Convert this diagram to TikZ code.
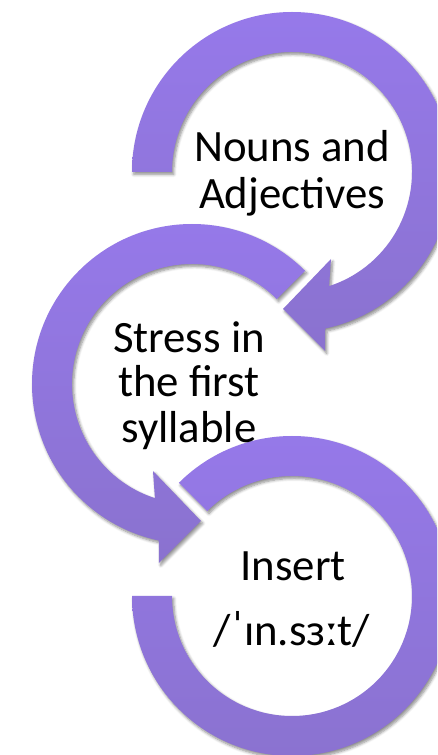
\documentclass[tikz,border=0pt]{standalone}
\usepackage{fontspec}
\setmainfont{Carlito}
\usetikzlibrary{shadows.blur}
\definecolor{ArrowTop}{HTML}{9679EA}
\definecolor{ArrowBot}{HTML}{8A72CF}

\begin{document}
\begin{tikzpicture}[x=0.02cm,y=0.02cm,
    ring/.style={top color=ArrowTop,bottom color=ArrowBot,draw=none,
      blur shadow={shadow xshift=1pt,shadow yshift=-1.4pt,shadow blur radius=1.6pt,
        shadow blur steps=6,shadow opacity=45}},
    lbl/.style={anchor=base,inner sep=0pt,font=\fontsize{25.5}{30}\selectfont}]
\useasboundingbox (0,0) rectangle (437,755);
\clip (0,0) rectangle (437,755);
% top ring, head turns down-left
\shade[ring,shift={(292,583)}] (180:160) arc[start angle=180,end angle=-78,radius=160]
  -- (33,-179) -- (-9,-137) -- (39,-87) -- (-72:120)
  arc[start angle=-72,end angle=180,radius=120] -- cycle;
% middle ring, mirrored
\shade[ring,shift={(192,371)},xscale=-1] (135:160) arc[start angle=135,end angle=-78,radius=160]
  -- (33,-179) -- (-9,-137) -- (39,-87) -- (-72:120)
  arc[start angle=-72,end angle=135,radius=120] -- cycle;
% last ring, no head
\shade[ring,shift={(292,159)}] (135:160) arc[start angle=135,end angle=-180,radius=160]
  -- (180:120) arc[start angle=-180,end angle=135,radius=120] -- cycle;
\node[lbl] (nouns) at (292,593) {Nouns and};
\node[lbl] (adj) at (292,546) {Adjectives};
\node[lbl] (stress) at (189,402) {Stress in};
\node[lbl] (first) at (189,358) {the first};
\node[lbl] (syll) at (189,312) {syllable};
\node[lbl] (insert) at (293,174) {Insert};
\node[lbl] (ipa) at (292,110) {/ˈɪn.sɜːt/};
\end{tikzpicture}
\end{document}
